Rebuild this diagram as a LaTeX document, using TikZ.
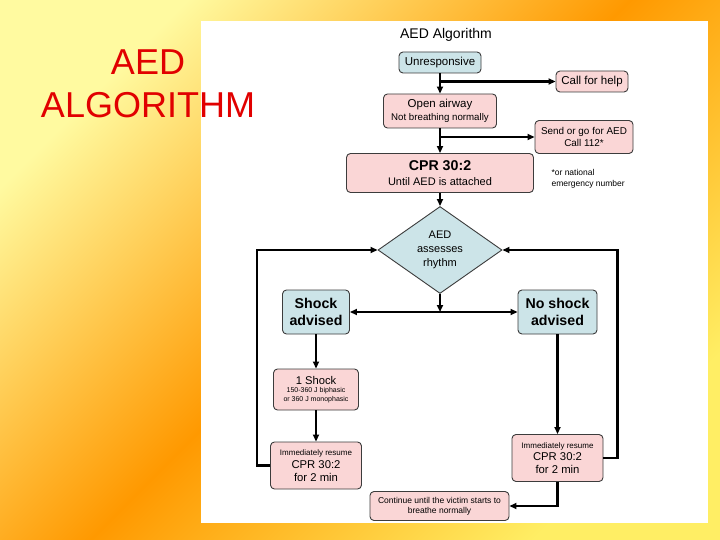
\documentclass[tikz,border=0pt]{standalone}
\usepackage{fontspec}
\setmainfont{Liberation Sans}
\usetikzlibrary{shapes.geometric,arrows.meta}
\definecolor{bgyellow}{RGB}{255,250,160}
\definecolor{bgorange}{RGB}{255,153,0}
\definecolor{bgyellow2}{RGB}{255,238,100}
\definecolor{boxpink}{RGB}{250,214,214}
\definecolor{boxblue}{RGB}{204,228,232}
\definecolor{boxline}{RGB}{60,60,60}
\definecolor{titlered}{RGB}{225,0,0}
\newcommand{\fsz}[2]{\fontsize{#1}{#2}\selectfont}
\begin{document}
\begin{tikzpicture}[x=1pt,y=-1pt,
  box/.style={draw=boxline, line width=0.9pt, rounded corners=4pt, inner sep=0pt, align=center},
  pinkbox/.style={box, fill=boxpink},
  bluebox/.style={box, fill=boxblue},
  conn/.style={line width=2.3pt, -{Triangle[length=7pt,width=6pt]}}
]
\useasboundingbox (0,0) rectangle (720,540);
\shade[top color=bgyellow, bottom color=bgyellow2, middle color=bgorange, shading angle=45] (0,0) rectangle (720,540);
\fill[white] (201,21) rectangle (708,523);

\node[font=\fsz{14}{16}] (title) at (446,35) {AED Algorithm};
\node[bluebox, minimum width=82pt, minimum height=21pt, font=\fsz{11.5}{13}] (unresp) at (440,62.5) {Unresponsive};
\node[pinkbox, minimum width=72pt, minimum height=21pt, font=\fsz{11.5}{13}] (help) at (592,81.5) {Call for help};
\node[pinkbox, minimum width=113pt, minimum height=34pt, font=\fsz{9.7}{13}] (open) at (440,111) {{\fsz{11.5}{13}Open airway}\\Not breathing normally};
\node[pinkbox, minimum width=98pt, minimum height=33pt, font=\fsz{9.9}{11.6}] (send) at (584,137) {Send or go for AED\\Call 112*};
\node[pinkbox, minimum width=187pt, minimum height=39pt, font=\fsz{11}{15.5}] (cpr) at (440,173) {{\fsz{14.2}{16}\bfseries CPR 30:2}\\Until AED is attached};
\node[anchor=west, align=left, font=\fsz{8.5}{10.5}] (note) at (548,179) {*or national\\emergency number};

\node[diamond, aspect=1.425, draw=boxline, line width=0.9pt, fill=boxblue, minimum width=124pt, minimum height=87pt, inner sep=0pt, align=center, font=\fsz{11}{13.8}] (aed) at (440,250) {AED\\assesses\\rhythm};

\node[bluebox, minimum width=67pt, minimum height=44pt, font=\fsz{14.2}{17.2}\bfseries] (shock) at (316,312) {Shock\\advised};
\node[bluebox, minimum width=79pt, minimum height=44pt, font=\fsz{14.2}{17.2}\bfseries] (noshock) at (557.5,312) {No shock\\advised};
\node[pinkbox, minimum width=85pt, minimum height=41pt, font=\fsz{7}{8.5}] (one) at (316,389.5) {{\fsz{11.2}{11}1 Shock}\\150-360 J biphasic\\or 360 J monophasic};
\node[pinkbox, minimum width=91pt, minimum height=47pt, font=\fsz{11.3}{12.7}] (irl) at (316,465.5) {{\fsz{8}{10}Immediately resume}\\CPR 30:2\\for 2 min};
\node[pinkbox, minimum width=91pt, minimum height=47pt, font=\fsz{11.3}{12.7}] (irr) at (557.5,458) {{\fsz{8}{10}Immediately resume}\\CPR 30:2\\for 2 min};
\node[pinkbox, minimum width=139pt, minimum height=29pt, font=\fsz{8.5}{10.3}] (cont) at (439.5,506) {Continue until the victim starts to\\breathe normally};

\node[text=titlered, font=\fsz{36}{43}, align=center] (big) at (148,84) {AED\\ALGORITHM};

\coordinate (b1) at (unresp.south |- help.west);
\coordinate (b2) at (open.south |- send.west);
\coordinate (j) at (aed.south |- shock.east);
\draw[conn] (unresp.south) -- (open.north);
\draw[conn] (b1) -- (help.west);
\draw[conn] (open.south) -- (cpr.north);
\draw[conn] (b2) -- (send.west);
\draw[conn] (cpr.south) -- (aed.north);
\draw[conn] (aed.south) -- (j);
\draw[conn] (j) -- (shock.east);
\draw[conn] (j) -- (noshock.west);
\draw[conn] (shock.south) -- (one.north);
\draw[conn] (one.south) -- (irl.north);
\draw[conn] (noshock.south) -- (irr.north);
\draw[conn] (irl.west) -- ++(-13,0) |- (aed.west);
\draw[conn] (irr.east) -- ++(14,0) |- (aed.east);
\draw[conn] (irr.south) |- (cont.east);
\end{tikzpicture}
\end{document}
